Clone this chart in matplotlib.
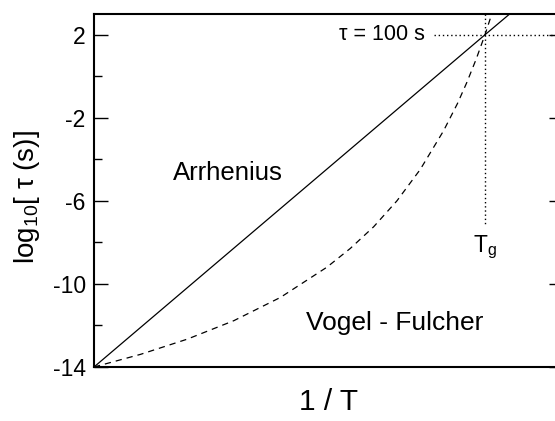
import matplotlib
matplotlib.use("Agg")
import matplotlib.pyplot as plt

plt.rcParams['font.family'] = ['Liberation Sans', 'DejaVu Sans']
plt.rcParams['mathtext.fontset'] = 'custom'
plt.rcParams['mathtext.rm'] = 'Liberation Sans'
plt.rcParams['mathtext.it'] = 'Liberation Sans:italic'

# Arrhenius line (1/T, log10 tau)
arr_x = [0.0, 0.839, 0.92]
arr_y = [-14.0, 2.0, 3.53]

# Vogel-Fulcher curve
vf_x = [0.0, 0.1, 0.2, 0.3, 0.4, 0.5, 0.55, 0.6, 0.65, 0.7, 0.75, 0.78, 0.8, 0.82, 0.839, 0.853, 0.86]
vf_y = [-14.0, -13.39, -12.66, -11.77, -10.65, -9.19, -8.29, -7.25, -6.00, -4.49, -2.63, -1.31, -0.30, 0.82, 2.0, 2.96, 3.46]

tg_x = 0.839
tau_level = 2.0
yticks = [2, -2, -6, -10, -14]
minor_yticks = [0, -4, -8, -12]

fig = plt.figure(figsize=(5.55, 4.21), dpi=100)
ax = fig.add_axes([94/555, 54/421, 469/555, 353/421])

ax.plot(arr_x, arr_y, color='black', lw=0.9)
ax.plot(vf_x, vf_y, color='black', lw=0.9, linestyle=(0, (5, 4)))

# dotted guide lines
ax.plot([0.73, 1.1], [tau_level, tau_level], color='black', lw=1.0, linestyle=(0, (1, 2)))
ax.plot([tg_x, tg_x], [3.0, -7.1], color='black', lw=1.0, linestyle=(0, (1, 2)))

ax.set_xlim(0, 469/466)
ax.set_ylim(-14, 3.0)
ax.set_xticks([])
ax.set_yticks(yticks)
ax.set_yticks(minor_yticks, minor=True)
ax.set_yticklabels([str(t) for t in yticks])
ax.tick_params(axis='y', which='major', direction='in', length=10, width=1.0, labelsize=16.5, right=True, pad=6)
ax.tick_params(axis='y', which='minor', direction='in', length=6, width=1.0, right=False)
for s in ax.spines.values():
    s.set_linewidth(1.5)

ax.set_xlabel('1 / T', fontsize=21.5, labelpad=15)
ax.set_ylabel('log$_{10}$[ τ (s)]', fontsize=20)
ax.yaxis.set_label_coords(-0.111, 0.48)

ax.text(0.288, -4.65, 'Arrhenius', fontsize=18.5, ha='center', va='center')
ax.text(0.646, -11.88, 'Vogel - Fulcher', fontsize=19, ha='center', va='center')
ax.text(0.709, 2.0, 'τ = 100 s', fontsize=15.5, ha='right', va='center')
ax.text(tg_x, -8.25, 'T$_\\mathrm{g}$', fontsize=16.5, ha='center', va='center')

fig.savefig('out.png', dpi=100)
